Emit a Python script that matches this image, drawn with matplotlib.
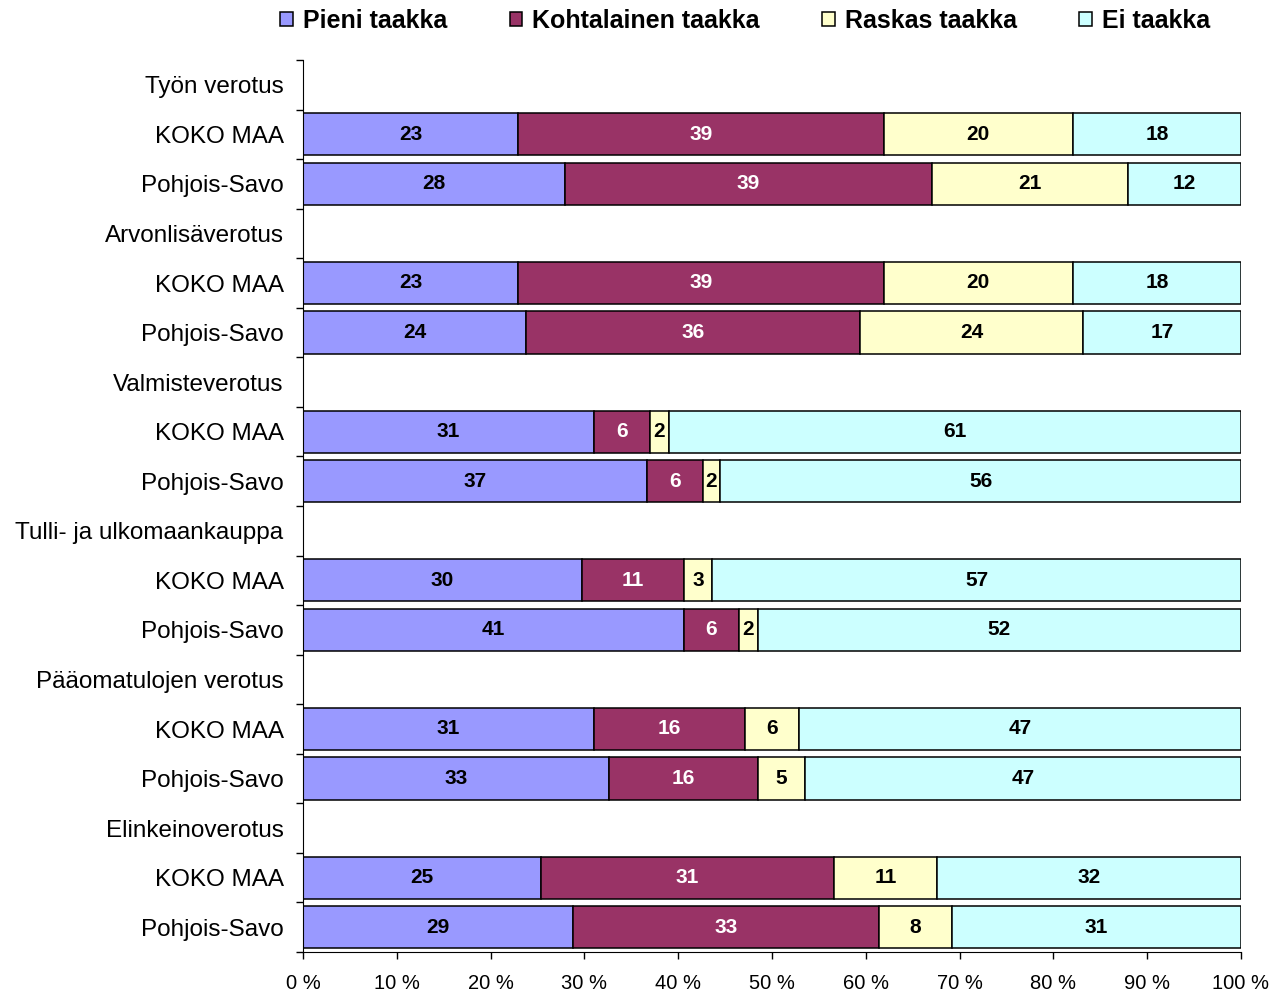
import numpy as np
import matplotlib
matplotlib.use("Agg")
import matplotlib.pyplot as plt
import matplotlib.patches as mpatches
from matplotlib.ticker import FixedLocator

plt.rcParams["font.family"] = ["Liberation Sans", "DejaVu Sans"]

# data
groups = [
    "Työn verotus",
    "Arvonlisäverotus",
    "Valmisteverotus",
    "Tulli- ja ulkomaankauppa",
    "Pääomatulojen verotus",
    "Elinkeinoverotus",
]
regions = ["KOKO MAA", "Pohjois-Savo"]
series = ["Pieni taakka", "Kohtalainen taakka", "Raskas taakka", "Ei taakka"]
colors = ["#9999FF", "#993366", "#FFFFCC", "#CCFFFF"]
text_colors = ["black", "white", "black", "black"]

# one value per bar row (KOKO MAA, Pohjois-Savo for each group)
pieni = [22.9, 27.9, 22.9, 23.8, 31.0, 36.7, 29.7, 40.6, 31.0, 32.6, 25.4, 28.8]
kohtalainen = [39.0, 39.2, 39.0, 35.6, 6.0, 5.9, 10.9, 5.9, 16.1, 15.9, 31.2, 32.6]
raskas = [20.2, 20.9, 20.2, 23.8, 2.0, 1.9, 3.0, 2.0, 5.8, 5.0, 11.0, 7.8]
ei = [17.9, 12.0, 17.9, 16.8, 61.0, 55.5, 56.4, 51.5, 47.1, 46.5, 32.4, 30.8]

# the rounded labels printed in the bars
pieni_lbl = [23, 28, 23, 24, 31, 37, 30, 41, 31, 33, 25, 29]
kohtalainen_lbl = [39, 39, 39, 36, 6, 6, 11, 6, 16, 16, 31, 33]
raskas_lbl = [20, 21, 20, 24, 2, 2, 3, 2, 6, 5, 11, 8]
ei_lbl = [18, 12, 18, 17, 61, 56, 57, 52, 47, 47, 32, 31]

values = [pieni, kohtalainen, raskas, ei]
labels = [pieni_lbl, kohtalainen_lbl, raskas_lbl, ei_lbl]

# row layout: group header followed by its two regions
row_names = []
bar_rows = []
for g in groups:
    row_names.append(g)
    for r in regions:
        bar_rows.append(len(row_names))
        row_names.append(r)
bar_rows = np.array(bar_rows)

fig = plt.figure(figsize=(12.76, 9.94), dpi=100)
ax = fig.add_axes([303 / 1276, 1 - 952 / 994, 938 / 1276, 892 / 994])

left = np.zeros(len(bar_rows))
for vals, lbls, col, tcol, name in zip(values, labels, colors, text_colors, series):
    vals = np.array(vals)
    ax.barh(bar_rows, vals, left=left, height=0.85, color=col,
            edgecolor="black", linewidth=1.1, label=name)
    for y, x0, w, lb in zip(bar_rows, left, vals, lbls):
        ax.text(x0 + w / 2, y, str(lb), ha="center", va="center",
                fontsize=15, fontweight="bold", color=tcol)
    left = left + vals

n = len(row_names)
ax.set_ylim(n - 0.5, -0.5)
ax.set_xlim(0, 100)

ax.set_yticks(np.arange(n))
ax.set_yticklabels(row_names, fontsize=17.5)
ax.yaxis.set_minor_locator(FixedLocator(np.arange(n + 1) - 0.5))
ax.tick_params(axis="y", which="major", length=0, pad=14)
ax.tick_params(axis="y", which="minor", length=5, width=1, direction="out")

ax.set_xticks(np.arange(0, 101, 10))
ax.set_xticklabels([f"{t} %" for t in range(0, 101, 10)], fontsize=14.5)
ax.tick_params(axis="x", length=5, width=1, direction="out", pad=11)

ax.spines["top"].set_visible(False)
ax.spines["right"].set_visible(False)

handles = [mpatches.Patch(facecolor=c, edgecolor="black", linewidth=1.1, label=s)
           for c, s in zip(colors, series)]
fig.legend(handles=handles, loc="center", bbox_to_anchor=(745 / 1276, 1 - 21 / 994),
           ncol=4, frameon=False, prop={"size": 18, "weight": "bold"},
           handlelength=0.5, handleheight=0.5, handletextpad=0.4,
           columnspacing=2.5, borderaxespad=0)

fig.savefig("out.png", dpi=100)
plt.close(fig)
